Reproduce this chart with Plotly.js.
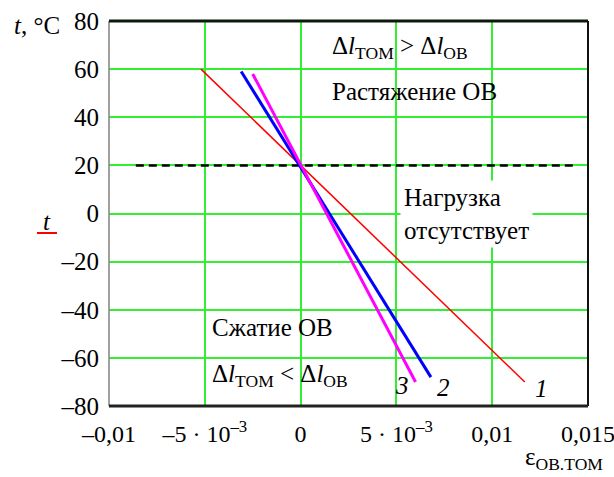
<!DOCTYPE html>
<html>
<head>
<meta charset="utf-8">
<script src="https://cdn.plot.ly/plotly-3.0.1.min.js"></script>
<style>
html,body{margin:0;padding:0;background:#fff;}
.fontwarm{position:absolute;left:0;top:600px;font-family:'Liberation Serif';font-size:25px;color:#fff;}
</style>
</head>
<body>
<div class="fontwarm">Liberation Serif Растяжение ОВ 0,015 <i>t l</i> Δε</div>
<div id="chart" style="width:614px;height:477px"></div>
<script>
// Data
const line1_x = [-0.0052, 0.0117];
const line1_y = [60, -70];
const line2_x = [-0.0031, 0.0068];
const line2_y = [59, -68];
const line3_x = [-0.0025, 0.0060];
const line3_y = [58, -70];
const noload_x = [-0.0086, 0.0143];
const noload_y = [20, 20];

const xTickVals = [-0.01, -0.005, 0, 0.005, 0.01, 0.015];
const xTickText = ['\u20130,01', '\u20135 \u00b7 10<sup>\u20133</sup>', '0', '5 \u00b7 10<sup>\u20133</sup>', '0,01', '0,015'];
const yTickVals = [-80, -60, -40, -20, 0, 20, 40, 60, 80];
const yTickText = ['\u201380', '\u201360', '\u201340', '\u201320', '0', '20', '40', '60', '80'];

const curveLabels = ['1', '2', '3'];
const curveLabelX = [0.01255, 0.00744, 0.0053];
const curveLabelY = [-72.7, -72.3, -71.4];

const FONT = 'Liberation Serif';
const GREEN = '#33ee33';

const traces = [
  {x: noload_x, y: noload_y, mode: 'lines', line: {color: '#000', width: 2.5, dash: '8px,5px'}, hoverinfo: 'skip'},
  {x: line1_x, y: line1_y, mode: 'lines', line: {color: '#ff0000', width: 1.5}},
  {x: line2_x, y: line2_y, mode: 'lines', line: {color: '#0000ff', width: 3}},
  {x: line3_x, y: line3_y, mode: 'lines', line: {color: '#ff00ff', width: 3}}
];

function annFont() { return {family: FONT, size: 25, color: '#000'}; }
const annotations = [
  {xref: 'x', yref: 'y', x: 0.00155, y: 68.8, xanchor: 'left', yanchor: 'middle', showarrow: false,
   text: '\u0394<i>l</i><sub>\u0422\u041e\u041c</sub> > \u0394<i>l</i><sub>\u041e\u0412</sub>', font: annFont()},
  {xref: 'x', yref: 'y', x: 0.00155, y: 50.5, xanchor: 'left', yanchor: 'middle', showarrow: false,
   text: '\u0420\u0430\u0441\u0442\u044f\u0436\u0435\u043d\u0438\u0435 \u041e\u0412', font: annFont()},
  {xref: 'x', yref: 'y', x: 0.0052, y: -0.3, xanchor: 'left', yanchor: 'middle', align: 'left', showarrow: false,
   bgcolor: '#fff', borderpad: 3,
   text: '\u041d\u0430\u0433\u0440\u0443\u0437\u043a\u0430<br>\u043e\u0442\u0441\u0443\u0442\u0441\u0442\u0432\u0443\u0435\u0442', font: annFont()},
  {xref: 'x', yref: 'y', x: -0.00475, y: -47.3, xanchor: 'left', yanchor: 'middle', showarrow: false,
   text: '\u0421\u0436\u0430\u0442\u0438\u0435 \u041e\u0412', font: annFont()},
  {xref: 'x', yref: 'y', x: -0.00472, y: -67.3, xanchor: 'left', yanchor: 'middle', showarrow: false,
   text: '\u0394<i>l</i><sub>\u0422\u041e\u041c</sub> < \u0394<i>l</i><sub>\u041e\u0412</sub>', font: annFont()},
  {xref: 'paper', yref: 'paper', x: -0.2025, y: 0.9896, xanchor: 'left', yanchor: 'middle', showarrow: false,
   text: '<i>t</i>, \u00b0C', font: annFont()},
  {xref: 'paper', yref: 'paper', x: -0.1294, y: 0.4805, xanchor: 'center', yanchor: 'middle', showarrow: false,
   text: '<i>t</i>', font: annFont()},
  {xref: 'paper', yref: 'paper', x: 0.95, y: -0.182, xanchor: 'center', yanchor: 'bottom', showarrow: false,
   text: '\u03b5<sub>\u041e\u0412.\u0422\u041e\u041c</sub>', font: annFont()}
];
curveLabels.forEach((lbl, i) => {
  annotations.push({xref: 'x', yref: 'y', x: curveLabelX[i], y: curveLabelY[i], xanchor: 'center', yanchor: 'middle',
    showarrow: false, text: '<i>' + lbl + '</i>', font: annFont()});
});

const shapes = [
  {type: 'line', xref: 'paper', yref: 'paper', x0: -0.1503, x1: -0.1086, y0: 0.4494, y1: 0.4494, line: {color: '#ff0000', width: 2}},
  {type: 'line', xref: 'paper', yref: 'paper', x0: 0, x1: 0, y0: 0, y1: 1, line: {color: '#808080', width: 1.5}, layer: 'above'},
  {type: 'line', xref: 'paper', yref: 'paper', x0: 0, x1: 1, y0: 1, y1: 1, line: {color: '#0a1a0a', width: 3}, layer: 'above'},
  {type: 'line', xref: 'paper', yref: 'paper', x0: 1, x1: 1, y0: 0, y1: 1, line: {color: '#111', width: 2}, layer: 'above'},
  {type: 'line', xref: 'paper', yref: 'paper', x0: 0, x1: 1, y0: 0, y1: 0, line: {color: '#222', width: 3}, layer: 'above'}
];

const layout = {
  width: 614, height: 477,
  margin: {l: 109, r: 26, t: 21, b: 71},
  paper_bgcolor: '#fff', plot_bgcolor: '#fff',
  showlegend: false,
  font: {family: FONT, size: 25, color: '#000'},
  xaxis: {
    range: [-0.01, 0.015], tickmode: 'array', tickvals: xTickVals, ticktext: xTickText,
    showgrid: true, gridcolor: GREEN, gridwidth: 1.5, zeroline: false, showline: false, ticks: '',
    tickfont: {family: FONT, size: 24, color: '#000'}, ticklabelstandoff: 11, ticklabeloverflow: 'allow'
  },
  yaxis: {
    range: [-80, 80], tickmode: 'array', tickvals: yTickVals, ticktext: yTickText,
    showgrid: true, gridcolor: GREEN, gridwidth: 1.5, zeroline: false, showline: false, ticks: '',
    tickfont: {family: FONT, size: 25, color: '#000'}, ticklabelstandoff: 9
  },
  annotations: annotations,
  shapes: shapes
};

Plotly.newPlot('chart', traces, layout, {displayModeBar: false});
if (document.fonts && document.fonts.load) {
  Promise.all([
    document.fonts.load("25px 'Liberation Serif'"),
    document.fonts.load("italic 25px 'Liberation Serif'")
  ]).then(() => Plotly.redraw('chart')).catch(() => {});
}
</script>
</body>
</html>
